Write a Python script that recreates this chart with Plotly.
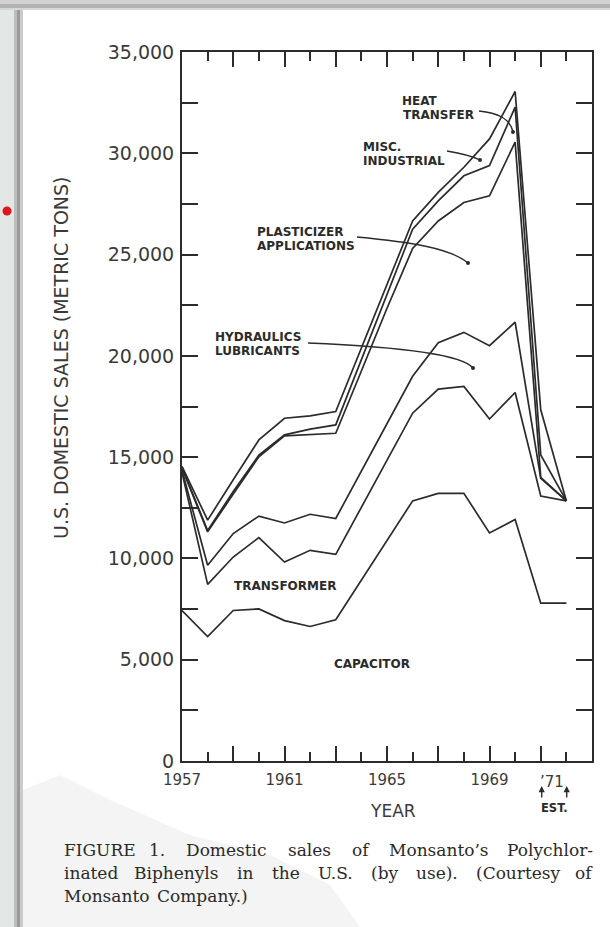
import plotly.graph_objects as go

# ---------------- data (cumulative boundary lines, metric tons) ----------------
years = list(range(1957, 1973))

capacitor_top = [7430, 6140, 7430, 7510, 6930, 6640, 6970, 8940, 10900, 12840,
                 13210, 13210, 11260, 11920, 7790, 7790]
transformer_top = [14250, 8720, 10070, 11030, 9820, 10400, 10200, 12530, 14890, 17170,
                   18360, 18490, 16880, 18190, 13080, 12840]
hydraulics_top = [14350, 9660, 11230, 12090, 11750, 12180, 11970, 14310, 16690, 18990,
                  20650, 21160, 20500, 21660, 13950, 12840]
plasticizer_top = [14450, 11310, 13180, 15020, 16050, 16100, 16180, 19250, 22350, 25300,
                   26660, 27570, 27900, 30550, 14000, 12840]
misc_industrial_top = [14500, 11380, 13300, 15100, 16100, 16380, 16590, 19830, 23100, 26250,
                       27650, 28890, 29390, 32280, 15110, 12840]
heat_transfer_top = [14550, 11890, 13880, 15850, 16920, 17040, 17250, 20410, 23590, 26660,
                     28070, 29310, 30710, 33050, 17340, 12840]

y_tick_values = list(range(0, 35001, 2500))
y_tick_labels = ["0", "", "5,000", "", "10,000", "", "15,000", "", "20,000", "",
                 "25,000", "", "30,000", "", "35,000"]
x_major_ticks = list(range(1957, 1972, 2))
x_major_labels = ["1957", "", "1961", "", "1965", "", "1969", ""]
x_minor_ticks = list(range(1958, 1973, 2))

caption_lines = [
    ["FIGURE", "1.", "Domestic", "sales", "of", "Monsanto’s", "Polychlor-"],
    ["inated", "Biphenyls", "in", "the", "U.S.", "(by", "use).", "(Courtesy", "of"],
    ["Monsanto", "Company.)"],
]

LINE = "#2b2b2b"
SANS = "DejaVu Sans"
SERIF = "DejaVu Serif"

# ---------------- figure ----------------
fig = go.Figure()
series = [
    ("Capacitor", capacitor_top),
    ("Transformer", transformer_top),
    ("Hydraulics/Lubricants", hydraulics_top),
    ("Plasticizer applications", plasticizer_top),
    ("Misc. industrial", misc_industrial_top),
    ("Heat transfer", heat_transfer_top),
]
for name, vals in series:
    fig.add_trace(go.Scatter(x=years, y=vals, mode="lines", name=name,
                             line=dict(color=LINE, width=1.7),
                             hoverinfo="skip", showlegend=False))

# plot area: x 182..592 px, y 52..761 px
L, R, T, B = 182, 592, 52, 761
W, H = 610, 927


def PX(px):
    return (px - L) / (R - L)


def PY(py):
    return (B - py) / (B - T)


ann = []


def text(t, px, py, size=12, xanchor="left", family=SANS, bold=False, color=LINE, angle=0):
    if bold:
        t = "<b>" + t + "</b>"
    ann.append(dict(text=t, x=PX(px), y=PY(py), xref="paper", yref="paper",
                    xanchor=xanchor, yanchor="middle", showarrow=False,
                    textangle=angle, font=dict(family=family, size=size, color=color)))


# series labels
text("HEAT", 400, 101, bold=True)
text("TRANSFER", 401, 115, bold=True)
text("MISC.", 361, 147, bold=True)
text("INDUSTRIAL", 361, 161, bold=True)
text("PLASTICIZER", 255, 232, bold=True)
text("APPLICATIONS", 255, 246, bold=True)
text("HYDRAULICS", 213, 337, bold=True)
text("LUBRICANTS", 213, 351, bold=True)
text("TRANSFORMER", 232, 586, bold=True)
text("CAPACITOR", 332, 664, bold=True)

# axis titles / special ticks
text("U.S. DOMESTIC SALES (METRIC TONS)", 61, 358, size=19, xanchor="center", angle=-90, color="#3a3a3a")
text("YEAR", 393, 811, size=17, xanchor="center", color="#3a3a3a")
text("’71", 552, 782, size=15, xanchor="center", color="#3a3a3a")
text("<b>EST.</b>", 554, 808, size=11.5, xanchor="center")
for ax_px in (541.7, 566.7):
    ann.append(dict(text="", x=PX(ax_px), y=PY(786), xref="paper", yref="paper",
                    showarrow=True, ax=0, ay=13, arrowhead=2, arrowsize=0.9,
                    arrowwidth=1.4, arrowcolor=LINE))

# caption: justified word placement with approximate DejaVu Serif advance widths (em)
EM = {
    "F": .64, "I": .33, "G": .78, "U": .75, "R": .72, "E": .66, "D": .77, "M": .87,
    "P": .66, "B": .70, "C": .72, "S": .65,
    "a": .60, "b": .64, "c": .56, "d": .64, "e": .59, "f": .37, "h": .64, "i": .32,
    "l": .32, "m": .95, "n": .64, "o": .60, "p": .64, "r": .48, "s": .51, "t": .40,
    "u": .64, "y": .57, "1": .64, ".": .32, "’": .32, "-": .34, "(": .39, ")": .39,
}
CAP_SIZE = 17
CAP_LEFT, CAP_RIGHT = 62, 595
CAP_Y = [850, 873, 896]


def width_px(word):
    return sum(EM.get(ch, .6) for ch in word) * CAP_SIZE


for li, (words, ly) in enumerate(zip(caption_lines, CAP_Y)):
    widths = [width_px(w) for w in words]
    last_line = li == len(caption_lines) - 1
    if not last_line:
        gap = (CAP_RIGHT - CAP_LEFT - sum(widths)) / (len(words) - 1)
    else:
        gap = 12
    xcur = CAP_LEFT
    for wi, (w, wd) in enumerate(zip(words, widths)):
        if wi == 0:
            text(w, CAP_LEFT, ly, size=CAP_SIZE, xanchor="left", family=SERIF, color="#2a2a2a")
        elif wi == len(words) - 1 and not last_line:
            text(w, CAP_RIGHT, ly, size=CAP_SIZE, xanchor="right", family=SERIF, color="#2a2a2a")
        else:
            text(w, xcur + wd / 2, ly, size=CAP_SIZE, xanchor="center", family=SERIF, color="#2a2a2a")
        xcur += wd + gap

# ---------------- decorative shapes ----------------
shapes = []


def rect(x0, y0, x1, y1, color):
    shapes.append(dict(type="rect", xref="paper", yref="paper", x0=PX(x0), x1=PX(x1),
                       y0=PY(y1), y1=PY(y0), fillcolor=color, line=dict(width=0), layer="below"))


# scanned page edge (left and top)
rect(0, 0, 14, H, "#e3e7e5")
rect(14, 0, 17, H, "#bdbdbd")
rect(17, 0, 20, H, "#9b9b9b")
rect(20, 0, 23, H, "#cbcbcb")
rect(0, 0, W, 4, "#d2d2d2")
rect(0, 4, W, 8, "#b3b3b3")
rect(0, 8, W, 10, "#d6d6d6")


def path_px(points):
    return "M " + " L ".join(f"{PX(a):.5f},{PY(b):.5f}" for a, b in points) + " Z"


# faint smudge under caption
shapes.append(dict(type="path", xref="paper", yref="paper",
                   path=path_px([(23, 927), (23, 790), (60, 775), (110, 800), (190, 835),
                                 (270, 855), (330, 885), (360, 927)]),
                   fillcolor="#f4f4f4", line=dict(width=0), layer="below"))

# red dot in margin
shapes.append(dict(type="circle", xref="paper", yref="paper", x0=PX(2.5), x1=PX(11.5),
                   y0=PY(215.5), y1=PY(206.5), fillcolor="#e0161c", line=dict(width=0)))


# leader lines (cubic curves, pixel based)
def curve(p0, c1, c2, p1):
    return (f"M {PX(p0[0]):.5f},{PY(p0[1]):.5f} C {PX(c1[0]):.5f},{PY(c1[1]):.5f} "
            f"{PX(c2[0]):.5f},{PY(c2[1]):.5f} {PX(p1[0]):.5f},{PY(p1[1]):.5f}")


leaders = [
    ((479, 111), (497, 113), (510, 118), (513, 132)),
    ((447, 151), (459, 153), (472, 156), (480, 160)),
    ((357, 237), (410, 242), (450, 248), (468, 263)),
    ((308, 343), (380, 346), (460, 352), (473, 368)),
]
for p0, c1, c2, p1 in leaders:
    shapes.append(dict(type="path", xref="paper", yref="paper", path=curve(p0, c1, c2, p1),
                       line=dict(color=LINE, width=1.3)))
    shapes.append(dict(type="circle", xref="paper", yref="paper",
                       x0=PX(p1[0] - 2), x1=PX(p1[0] + 2), y0=PY(p1[1] + 2), y1=PY(p1[1] - 2),
                       fillcolor=LINE, line=dict(width=0)))

fig.update_layout(
    width=W, height=H,
    margin=dict(l=L, r=W - R, t=T, b=H - B),
    paper_bgcolor="white", plot_bgcolor="white",
    showlegend=False,
    annotations=ann, shapes=shapes,
    xaxis=dict(range=[1957, 1973], showgrid=False, zeroline=False,
               showline=True, linecolor=LINE, linewidth=2, mirror="ticks",
               ticks="inside", ticklen=15, tickwidth=1.8, tickcolor=LINE,
               tickvals=x_major_ticks, ticktext=x_major_labels,
               tickfont=dict(family=SANS, size=15, color="#3a3a3a"),
               ticklabelstandoff=4,
               minor=dict(tickvals=x_minor_ticks, ticks="inside", ticklen=9,
                          tickwidth=1.8, tickcolor=LINE)),
    yaxis=dict(range=[0, 35000], showgrid=False, zeroline=False,
               showline=True, linecolor=LINE, linewidth=2, mirror="ticks",
               ticks="inside", ticklen=16, tickwidth=1.8, tickcolor=LINE,
               tickvals=y_tick_values, ticktext=y_tick_labels,
               tickfont=dict(family=SANS, size=19, color="#3a3a3a"),
               ticklabelstandoff=2),
)

fig.write_html("out.html", config={"displayModeBar": False},
               post_script="document.body.style.margin='0px';document.body.style.overflow='hidden';")
